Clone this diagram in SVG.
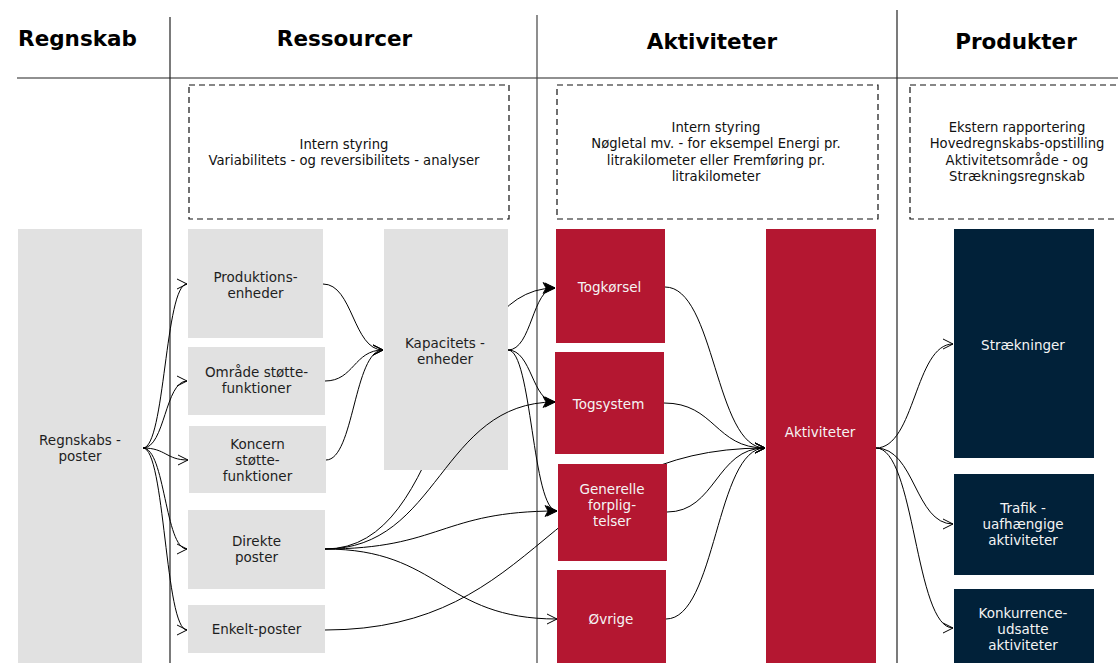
<svg xmlns="http://www.w3.org/2000/svg" width="1118" height="663" viewBox="0 0 1118 663">
<style>
text{font-family:"DejaVu Sans",Verdana,sans-serif;text-anchor:middle}
.hdr{font-size:21.5px;font-weight:bold;fill:#000}
.note{font-size:13.2px;fill:#111}
.t{font-size:13.5px}
.gray rect{fill:#e1e1e1}
.gray text{fill:#1e1e1e}
.red rect{fill:#b41731}
.navy rect{fill:#012139}
.red text,.navy text{fill:#f4f4f4}
.sep{stroke:#222;stroke-width:1.2;fill:none}
.dash{fill:none;stroke:#111;stroke-width:1.2;stroke-dasharray:6 4}
#connectors path{fill:none;stroke:#000;stroke-width:1}
.o{marker-end:url(#open)}
.f{marker-end:url(#filled)}
</style>
<defs>
<marker id="open" markerUnits="userSpaceOnUse" markerWidth="13" markerHeight="13" refX="11" refY="6" orient="auto" overflow="visible">
<path d="M1,1 L11,6 L1,11" fill="none" stroke="#000" stroke-width="1"/>
</marker>
<marker id="filled" markerUnits="userSpaceOnUse" markerWidth="14" markerHeight="14" refX="12" refY="6.5" orient="auto" overflow="visible">
<path d="M0,1 L12,6.5 L0,12 L3,6.5 z" fill="#000" stroke="#000" stroke-width="0.8"/>
</marker>
<mask id="mKap" maskUnits="userSpaceOnUse" x="0" y="0" width="1118" height="663">
<rect x="0" y="0" width="1118" height="663" fill="#fff"/>
<rect x="384" y="229" width="124" height="241" fill="#000"/>
</mask>
<mask id="mGen" maskUnits="userSpaceOnUse" x="0" y="0" width="1118" height="663">
<rect x="0" y="0" width="1118" height="663" fill="#fff"/>
<rect x="558" y="464" width="109" height="97" fill="#000"/>
</mask>
</defs>
<rect x="0" y="0" width="1118" height="663" fill="#fff"/>

<g id="frame">
<line class="sep" x1="17" y1="78" x2="1118" y2="78"/>
<line class="sep" x1="170" y1="17" x2="170" y2="663"/>
<line class="sep" x1="537" y1="15" x2="537" y2="663" style="stroke:#444"/>
<line class="sep" x1="897" y1="10" x2="897" y2="663"/>
<text class="hdr" x="77.5" y="46">Regnskab</text>
<text class="hdr" x="344.5" y="45.5">Ressourcer</text>
<text class="hdr" x="712" y="48.5">Aktiviteter</text>
<text class="hdr" x="1016" y="48.5">Produkter</text>
</g>

<g id="note-ressourcer">
<rect class="dash" x="189" y="85" width="320" height="134"/>
<text class="note" x="344" y="148.5">Intern styring</text>
<text class="note" x="344" y="164.8">Variabilitets - og reversibilitets - analyser</text>
</g>
<g id="note-aktiviteter">
<rect class="dash" x="557" y="85" width="321" height="134"/>
<text class="note" x="716" y="132">Intern styring</text>
<text class="note" x="716" y="148.3">Nøgletal mv. - for eksempel Energi pr.</text>
<text class="note" x="716" y="164.6">litrakilometer eller Fremføring pr.</text>
<text class="note" x="716" y="181">litrakilometer</text>
</g>
<g id="note-produkter">
<rect class="dash" x="910" y="85" width="215" height="134"/>
<text class="note" x="1017" y="132">Ekstern rapportering</text>
<text class="note" x="1017" y="148.3">Hovedregnskabs-opstilling</text>
<text class="note" x="1017" y="164.6">Aktivitetsområde - og</text>
<text class="note" x="1017" y="181">Strækningsregnskab</text>
</g>

<g id="n-regnskabsposter" class="gray">
<rect x="18" y="229" width="124" height="434"/>
<text class="t" x="80" y="445">Regnskabs -</text>
<text class="t" x="80" y="461">poster</text>
</g>
<g id="n-produktionsenheder" class="gray">
<rect x="188" y="229" width="135" height="109"/>
<text class="t" x="255.5" y="282">Produktions-</text>
<text class="t" x="255.5" y="298">enheder</text>
</g>
<g id="n-omraade" class="gray">
<rect x="188" y="347" width="137" height="68"/>
<text class="t" x="256.5" y="377">Område støtte-</text>
<text class="t" x="256.5" y="393">funktioner</text>
</g>
<g id="n-koncern" class="gray">
<rect x="189" y="426" width="137" height="67"/>
<text class="t" x="257.5" y="449">Koncern</text>
<text class="t" x="257.5" y="465">støtte-</text>
<text class="t" x="257.5" y="481">funktioner</text>
</g>
<g id="n-direkte" class="gray">
<rect x="188" y="510" width="137" height="79"/>
<text class="t" x="256.5" y="546">Direkte</text>
<text class="t" x="256.5" y="562">poster</text>
</g>
<g id="n-enkelt" class="gray">
<rect x="188" y="605" width="137" height="48"/>
<text class="t" x="256.5" y="634">Enkelt-poster</text>
</g>
<g id="n-kapacitet" class="gray">
<rect x="384" y="229" width="124" height="241"/>
<text class="t" x="445" y="348">Kapacitets -</text>
<text class="t" x="445" y="364">enheder</text>
</g>

<g id="n-togkoersel" class="red">
<rect x="556" y="229" width="109" height="114"/>
<text class="t" x="609.5" y="292">Togkørsel</text>
</g>
<g id="n-togsystem" class="red">
<rect x="555" y="352" width="109" height="102"/>
<text class="t" x="608.5" y="409">Togsystem</text>
</g>
<g id="n-generelle" class="red">
<rect x="558" y="464" width="109" height="97"/>
<text class="t" x="612" y="493.5">Generelle</text>
<text class="t" x="612" y="510">forplig-</text>
<text class="t" x="612" y="526">telser</text>
</g>
<g id="n-oevrige" class="red">
<rect x="557" y="570" width="109" height="93"/>
<text class="t" x="611" y="624">Øvrige</text>
</g>
<g id="n-aktiviteter" class="red">
<rect x="766" y="229" width="110" height="434"/>
<text class="t" x="820" y="437">Aktiviteter</text>
</g>

<g id="n-straekninger" class="navy">
<rect x="954" y="229" width="140" height="229"/>
<text class="t" x="1023" y="350">Strækninger</text>
</g>
<g id="n-trafik" class="navy">
<rect x="954" y="474" width="140" height="101"/>
<text class="t" x="1023" y="513">Trafik -</text>
<text class="t" x="1023" y="529">uafhængige</text>
<text class="t" x="1023" y="545">aktiviteter</text>
</g>
<g id="n-konkurrence" class="navy">
<rect x="954" y="589" width="140" height="74"/>
<text class="t" x="1023" y="618">Konkurrence-</text>
<text class="t" x="1023" y="634">udsatte</text>
<text class="t" x="1023" y="650">aktiviteter</text>
</g>

<g id="connectors">
<path class="o" d="M143,448 C165,448 165,284 187,284"/>
<path class="o" d="M143,448 C165,448 165,381 187,381"/>
<path class="o" d="M143,448 C166,448 166,460 188,460"/>
<path class="o" d="M143,448 C165,448 165,549 187,549"/>
<path class="o" d="M143,448 C165,448 165,630 187,630"/>
<path class="o" d="M323,284 C353,284 353,350 383,350"/>
<path class="o" d="M325,381 C354,381 354,350 383,350"/>
<path class="o" d="M326,460 C354,460 354,350 383,350"/>
<path class="o" mask="url(#mKap)" d="M325,549 C452,549 440,288 555,288"/>
<path class="o" d="M325,549 C440,549 440,402 555,402"/>
<path class="o" d="M325,549 C441,549 441,511 557,511"/>
<path class="o" d="M325,549 C441,549 441,619 557,619"/>
<path class="o" mask="url(#mGen)" d="M325,630 C545,630 545,448 765,448"/>
<path class="f" d="M508,350 C532,350 532,288 555,288"/>
<path class="f" d="M508,350 C532,350 532,402 555,402"/>
<path class="f" d="M508,350 C532,350 532,511 557,511"/>
<path class="o" d="M665,287 C715,287 715,448 765,448"/>
<path class="o" d="M664,403 C715,403 715,448 765,448"/>
<path class="o" d="M667,512 C716,512 716,448 765,448"/>
<path class="o" d="M666,619 C716,619 716,448 765,448"/>
<path class="o" d="M876,448 C915,448 915,344 953,344"/>
<path class="o" d="M876,448 C915,448 915,524 953,524"/>
<path class="o" d="M876,448 C915,448 915,628 953,628"/>
</g>
</svg>
